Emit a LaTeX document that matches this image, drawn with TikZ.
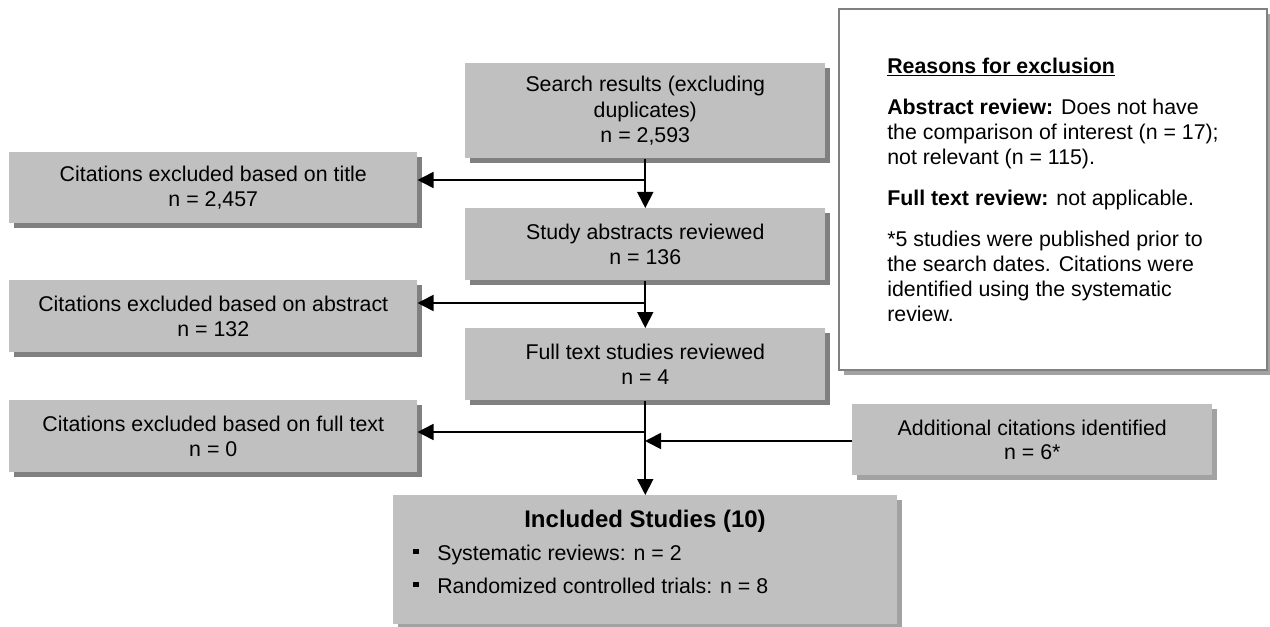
\documentclass[tikz,border=0pt]{standalone}
\usepackage{fontspec}
\setmainfont{Liberation Sans}
\usepackage{xcolor}
\usetikzlibrary{arrows.meta, shadows}

\definecolor{boxgray}{HTML}{C0C0C0}
\definecolor{shadegray}{HTML}{808080}
\definecolor{dotgray}{HTML}{A2A2A2}

\tikzset{
  flowbox/.style={fill=boxgray, inner sep=0pt, align=center, anchor=north west,
    font=\fontsize{16}{18.5}\selectfont,
    general shadow={fill=shadegray, shadow xshift=3.75pt, shadow yshift=-3.75pt}},
  dotbox/.style={fill=boxgray, inner sep=0pt, align=center, anchor=north west,
    font=\fontsize{16}{18.5}\selectfont,
    general shadow={fill=dotgray, shadow xshift=3.75pt, shadow yshift=-3.75pt}},
  flowline/.style={line width=1.3pt},
  flowarrow/.style={flowline, -{Triangle[length=12pt, width=12pt]}},
  listline/.style={anchor=base west, inner sep=0pt, font=\fontsize{16}{18.5}\selectfont}
}

\newcommand{\sqbullet}{\rule[4.6pt]{4pt}{4pt}\hspace{14pt}}

\begin{document}
\begin{tikzpicture}[x=0.75pt, y=-0.75pt]
\useasboundingbox (0,0) rectangle (1270,627);
\node[flowbox, minimum width=270pt, minimum height=71.25pt, font=\fontsize{16}{19}\selectfont] (search) at (465,63) {Search results (excluding\\duplicates)\\n = 2,593};
\node[flowbox, minimum width=270pt, minimum height=54pt] (abstracts) at (465,208) {Study abstracts reviewed\\n = 136};
\node[flowbox, minimum width=270pt, minimum height=54pt] (fulltext) at (465,328) {Full text studies reviewed\\n = 4};
\node[flowbox, minimum width=306pt, minimum height=53.25pt] (exTitle) at (9,152) {Citations excluded based on title\\n = 2,457};
\node[flowbox, minimum width=306pt, minimum height=54pt] (exAbstract) at (9,280) {Citations excluded based on abstract\\n = 132};
\node[flowbox, minimum width=306pt, minimum height=54pt] (exFull) at (9,400) {Citations excluded based on full text\\n = 0};
\node[dotbox, minimum width=270pt, minimum height=53.25pt] (additional) at (852,404) {Additional citations identified\\n = 6*};
\node[dotbox, minimum width=378pt, minimum height=96.75pt] (included) at (393,495) {};
\node[anchor=base, inner sep=0pt, font=\fontsize{18}{20}\selectfont\bfseries] (incTitle) at (645,527) {Included Studies (10)};
\node[listline] (incSys) at (413,560) {\sqbullet Systematic reviews: n = 2};
\node[listline] (incRct) at (413,593) {\sqbullet Randomized controlled trials: n = 8};
\node[anchor=north west, fill=white, draw=shadegray, line width=1.5pt, inner sep=0pt,
  minimum width=321pt, minimum height=270.75pt, align=left, font=\fontsize{16}{18.75}\selectfont,
  general shadow={fill=dotgray, shadow xshift=3.75pt, shadow yshift=-3.75pt}] (reasons) at (838,8)
  {\underline{\textbf{Reasons for exclusion}}\\[12pt]
   \textbf{Abstract review:} Does not have\\
   the comparison of interest (n = 17);\\
   not relevant (n = 115).\\[12pt]
   \textbf{Full text review:} not applicable.\\[12pt]
   *5 studies were published prior to\\
   the search dates. Citations were\\
   identified using the systematic\\
   review.};
\coordinate (cutTitle) at (645,180);
\coordinate (cutAbstract) at (645,303);
\coordinate (cutFull) at (645,432);
\coordinate (joinAdd) at (645,441);
\draw[flowarrow] (search.south) -- (abstracts.north);
\draw[flowarrow] (abstracts.south) -- (fulltext.north);
\draw[flowarrow] (fulltext.south) -- (included.north);
\draw[flowarrow] (cutTitle) -- (cutTitle -| exTitle.east);
\draw[flowarrow] (cutAbstract) -- (cutAbstract -| exAbstract.east);
\draw[flowarrow] (cutFull) -- (cutFull -| exFull.east);
\draw[flowarrow] (joinAdd -| additional.west) -- (joinAdd);
\end{tikzpicture}
\end{document}
